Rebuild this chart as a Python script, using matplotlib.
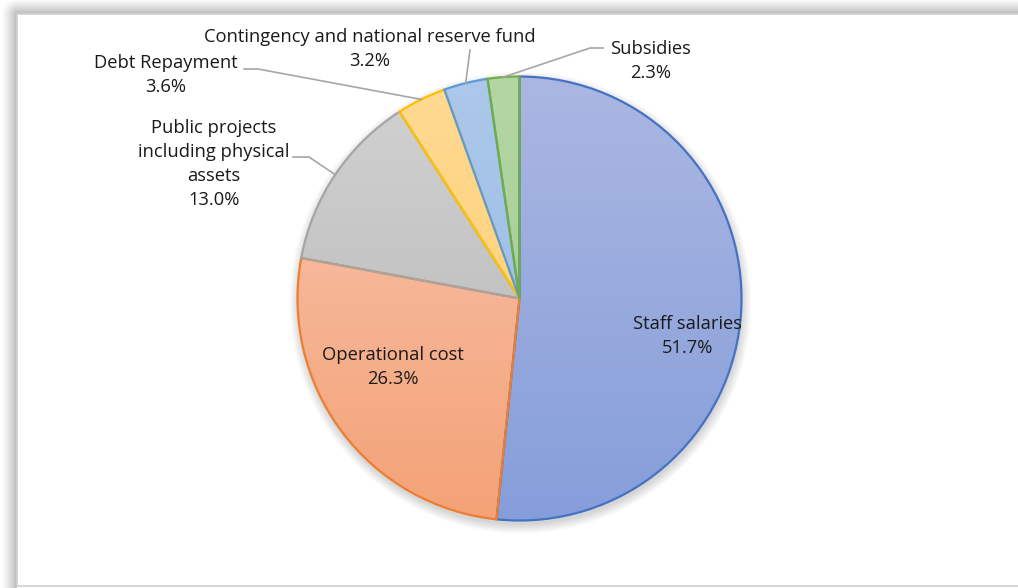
import numpy as np
import matplotlib
matplotlib.use('Agg')
import matplotlib.pyplot as plt
from matplotlib.patches import Wedge, Rectangle, Circle
from matplotlib.colors import to_rgb

plt.rcParams['font.family'] = ['Open Sans', 'DejaVu Sans']

# Data
categories = ['Staff salaries', 'Operational cost', 'Public projects\nincluding physical\nassets',
              'Debt Repayment', 'Contingency and national reserve fund', 'Subsidies']
values = [51.7, 26.3, 13.0, 3.6, 3.2, 2.3]

# Styles
edge_colors = ['#4472C4', '#ED7D31', '#A5A5A5', '#FFC000', '#5B9BD5', '#70AD47']
top_colors = ['#ABB7E2', '#F8C6B2', '#D2D2D2', '#FFDA93', '#ACC8EA', '#B4D6A4']
bottom_colors = ['#859EDA', '#F4A276', '#B4B4B4', '#FFCB6A', '#93B8E4', '#9FCB8C']
text_color = '#1A1A1A'

W, H = 1018, 588
fig = plt.figure(figsize=(W / 100, H / 100), dpi=100)
ax = fig.add_axes([0, 0, 1, 1])

cx, cy, r = 519.5, 298.5, 222

# frame shadow (top-left) and frame
xx, yy = np.meshgrid(np.arange(W) + 0.5, np.arange(H) + 0.5)
bx, by = 17, 14
d = np.hypot(np.clip(bx - xx, 0, None), np.clip(by - yy, 0, None))
inside = (xx >= bx) & (yy >= by)
shade = np.where(inside, 0, np.clip(1 - d / 16, 0, 1) ** 1.3 * 0.42)
img = np.ones((H, W, 4))
img[..., :3] = 0.35
img[..., 3] = shade
ax.imshow(img, extent=(0, W, H, 0), origin='upper', zorder=0, interpolation='bilinear')
ax.add_patch(Rectangle((bx, by), W + 10 - bx, 586 - by, facecolor='white',
                       edgecolor='#D0D0D0', lw=1.2, zorder=0.5))

# soft shadow under the pie
for i in range(14):
    ax.add_patch(Circle((cx + 1, cy + 4), r + 9 - i * 0.7, facecolor='black',
                        edgecolor='none', alpha=0.013, zorder=1))

wedges, _ = ax.pie(values, startangle=-90, counterclock=True, center=(cx, cy), radius=r,
                   wedgeprops=dict(linewidth=0, edgecolor='none'), frame=True)

for i, w in enumerate(wedges):
    w.set_zorder(2)
    c1 = np.array(to_rgb(top_colors[i]))
    c2 = np.array(to_rgb(bottom_colors[i]))
    t = np.linspace(0, 1, 256)[:, None]
    grad = (c1 * (1 - t) + c2 * t)[:, None, :]
    im = ax.imshow(grad, extent=(cx - r, cx + r, cy + r, cy - r), origin='upper',
                   aspect='auto', zorder=2 + i * 0.01, interpolation='bilinear')
    im.set_clip_path(w)

for i, w in enumerate(wedges):
    ax.add_patch(Wedge(w.center, w.r, w.theta1, w.theta2, facecolor='none',
                       edgecolor=edge_colors[i], lw=1.6, zorder=3 + i * 0.01,
                       joinstyle='miter'))

# labels
inside_pos = {0: (688, 336), 1: (393, 367)}
outside_pos = {2: (214, 164), 3: (166, 75), 4: (370, 49), 5: (651, 61)}
# leader line start (near label) and elbow
leaders = {2: [(293, 157), (309, 157)],
           3: [(244, 69), (258, 69)],
           4: [(470, 50), (470, 50)],
           5: [(603, 48), (590, 48)]}

for i, (lab, v) in enumerate(zip(categories, values)):
    txt = f'{lab}\n{v:.1f}%'
    if i in inside_pos:
        x, y = inside_pos[i]
    else:
        x, y = outside_pos[i]
    ax.text(x, y, txt, ha='center', va='center', fontsize=13.2, color=text_color,
            linespacing=1.45, zorder=5)
    if i in leaders:
        w = wedges[i]
        mid = np.deg2rad((w.theta1 + w.theta2) / 2)
        ex, ey = cx + r * np.cos(mid), cy + r * np.sin(mid)
        (sx, sy), (kx, ky) = leaders[i]
        ax.plot([sx, kx, ex], [sy, ky, ey], color='#A6A6A6', lw=1.2, zorder=4,
                solid_joinstyle='miter')

ax.set_xlim(0, W)
ax.set_ylim(H, 0)
ax.set_aspect('auto')
ax.axis('off')

fig.savefig('out.png', dpi=100)
